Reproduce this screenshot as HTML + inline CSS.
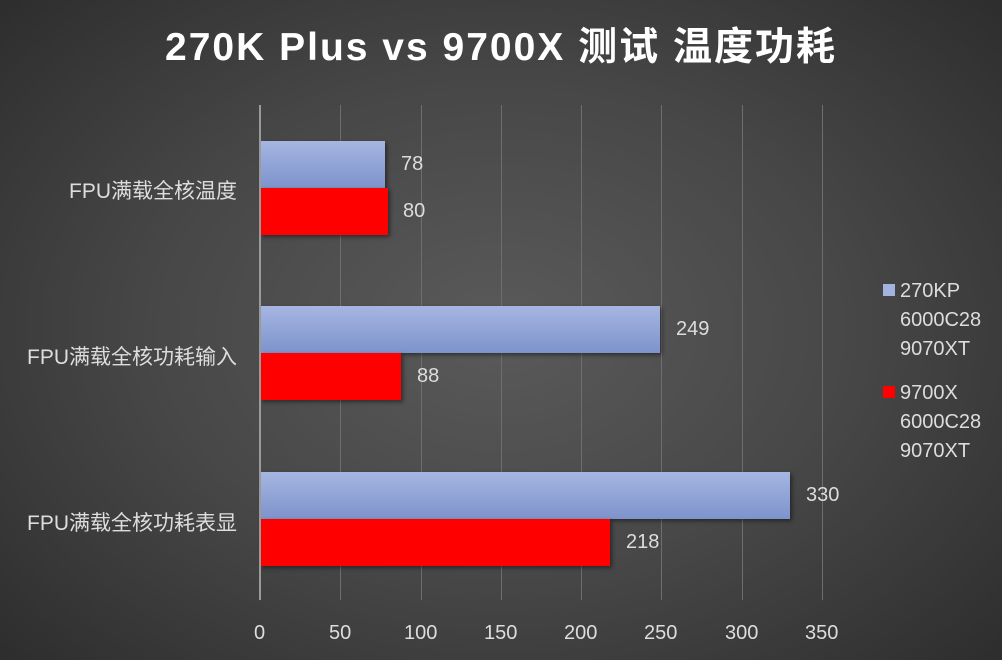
<!DOCTYPE html>
<html><head><meta charset="utf-8"><style>
html,body{margin:0;padding:0}
body{width:1002px;height:660px;overflow:hidden;background:radial-gradient(ellipse 70% 75% at 50% 50%,#5a5a5a 0%,#474747 50%,#2c2c2c 100%);font-family:"Liberation Sans","Noto Sans CJK SC",sans-serif;position:relative}
.t{position:absolute;color:#ddd;font-size:19px;white-space:nowrap}
.c{font-size:21px}
.g{position:absolute;top:105px;height:495px;width:1px;background:#6e6e6e}
.b{position:absolute;box-shadow:2px 2px 4px rgba(0,0,0,.45)}
.bl{background:linear-gradient(#a6b6e2,#7d93cb)}
.rd{background:#ff0000}
</style></head><body>
<div style="position:absolute;left:0;width:1002px;top:16px;text-align:center;color:#fff;font-size:39px;font-weight:bold;letter-spacing:2px">270K Plus vs 9700X 测试 温度功耗</div>
<div class="g" style="left:340px"></div><div class="g" style="left:421px"></div><div class="g" style="left:501px"></div><div class="g" style="left:581px"></div><div class="g" style="left:661px"></div><div class="g" style="left:742px"></div><div class="g" style="left:822px"></div>
<div class="b bl" style="left:260px;top:141px;width:125px;height:47px"></div>
<div class="b rd" style="left:260px;top:188px;width:128px;height:47px"></div>
<div class="b bl" style="left:260px;top:306px;width:400px;height:47px"></div>
<div class="b rd" style="left:260px;top:353px;width:141px;height:47px"></div>
<div class="b bl" style="left:260px;top:472px;width:530px;height:47px"></div>
<div class="b rd" style="left:260px;top:519px;width:350px;height:47px"></div>
<div style="position:absolute;left:259px;top:105px;width:2px;height:495px;background:#9a9a9a"></div>
<div class="t" style="left:401px;top:153px;font-size:20px">78</div>
<div class="t" style="left:403px;top:200px;font-size:20px">80</div>
<div class="t" style="left:676px;top:318px;font-size:20px">249</div>
<div class="t" style="left:417px;top:365px;font-size:20px">88</div>
<div class="t" style="left:806px;top:484px;font-size:20px">330</div>
<div class="t" style="left:626px;top:531px;font-size:20px">218</div>
<div class="t c" style="right:765px;top:175px">FPU满载全核温度</div>
<div class="t c" style="right:765px;top:341px">FPU满载全核功耗输入</div>
<div class="t c" style="right:765px;top:507px">FPU满载全核功耗表显</div>
<div class="t" style="left:254px;top:622px;font-size:20px">0</div>
<div class="t" style="left:329px;top:622px;font-size:20px">50</div>
<div class="t" style="left:404px;top:622px;font-size:20px">100</div>
<div class="t" style="left:484px;top:622px;font-size:20px">150</div>
<div class="t" style="left:564px;top:622px;font-size:20px">200</div>
<div class="t" style="left:644px;top:622px;font-size:20px">250</div>
<div class="t" style="left:725px;top:622px;font-size:20px">300</div>
<div class="t" style="left:805px;top:622px;font-size:20px">350</div>
<div style="position:absolute;left:883px;top:284px;width:12px;height:12px;background:#a3b3e0"></div>
<div class="t" style="left:900px;top:277px;line-height:29px;font-size:20px">270KP<br>6000C28<br>9070XT</div>
<div style="position:absolute;left:883px;top:386px;width:12px;height:12px;background:#ff0000"></div>
<div class="t" style="left:900px;top:379px;line-height:29px;font-size:20px">9700X<br>6000C28<br>9070XT</div>
</body></html>
